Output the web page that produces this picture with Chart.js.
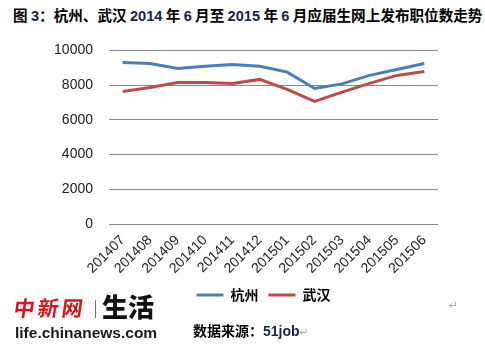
<!DOCTYPE html>
<html>
<head>
<meta charset="utf-8">
<script src="https://cdn.jsdelivr.net/npm/chart.js@4"></script>
<style>
  html, body { margin: 0; padding: 0; background: #fff; }
  #wrap { position: relative; width: 485px; height: 356px; overflow: hidden; background: #fff; }
  #title { position: absolute; left: 13px; top: 5px; font: bold 14.6px "Noto Sans CJK SC", sans-serif; color: #000; white-space: nowrap; line-height: 20px; }
  #title .n { color: #1a2350; font-family: "Liberation Sans", Arial, sans-serif; }
  #chartBox { position: absolute; left: 41px; top: 26px; width: 444px; height: 286px; }
  #logoRed { position: absolute; left: 14px; top: 294px; font: bold 21px "Noto Sans CJK SC", serif; color: #d9141c; letter-spacing: 3px; line-height: 26px; white-space: nowrap; transform: skewX(-8deg); }
  #logoSep { position: absolute; left: 95px; top: 300px; width: 1px; height: 18px; background: #777; }
  #logoLife { position: absolute; left: 102px; top: 291px; font: 900 26px "Noto Sans CJK SC", sans-serif; color: #111; line-height: 30px; white-space: nowrap; }
  #logoUrl { position: absolute; left: 15px; top: 324px; font: bold 15.5px "Liberation Sans", Arial, sans-serif; color: #1a1a1a; line-height: 18px; white-space: nowrap; }
  #source { position: absolute; left: 193px; top: 320px; font: bold 14px "Noto Sans CJK SC", sans-serif; color: #000; line-height: 20px; white-space: nowrap; }
  #source .n { color: #1a2350; font-family: "Liberation Sans", Arial, sans-serif; }
  .pm { color: #aaa; font-weight: normal; font-size: 11px; font-family: "DejaVu Sans", sans-serif; }
  #pm2 { position: absolute; left: 449px; top: 299px; }
</style>
</head>
<body>
<div id="wrap">
  <div id="title">图 <span class="n">3</span>：杭州、武汉 <span class="n">2014</span> 年 <span class="n">6</span> 月至 <span class="n">2015</span> 年 <span class="n">6</span> 月应届生网上发布职位数走势</div>
  <div id="chartBox"><canvas id="c"></canvas></div>
  <div id="logoRed">中新网</div>
  <div id="logoSep"></div>
  <div id="logoLife">生活</div>
  <div id="logoUrl">life.chinanews.com</div>
  <div id="source">数据来源：<span class="n">51job</span><span class="pm">↵</span></div>
  <div id="pm2" class="pm">↵</div>
</div>
<script>
const categories = ["201407","201408","201409","201410","201411","201412","201501","201502","201503","201504","201505","201506"];
const hangzhou = [9310, 9250, 8960, 9090, 9190, 9090, 8750, 7810, 8070, 8560, 8900, 9250];
const wuhan    = [7630, 7860, 8150, 8150, 8100, 8330, 7750, 7060, 7600, 8100, 8560, 8790];
const seriesNames = ["杭州", "武汉"];
const yTicks = [0, 2000, 4000, 6000, 8000, 10000];

const blue = "#4a7ebb";
const red = "#be4b48";

const legendShift = {
  id: "legendShift",
  afterLayout(chart) {
    const l = chart.legend;
    if (l) { l.left += 24; l.right += 24; }
  }
};

new Chart(document.getElementById("c"), {
  type: "line",
  data: {
    labels: categories,
    datasets: [
      { label: seriesNames[0], data: hangzhou, borderColor: blue, backgroundColor: blue, borderWidth: 3, pointRadius: 0, tension: 0, fill: false },
      { label: seriesNames[1], data: wuhan, borderColor: red, backgroundColor: red, borderWidth: 3, pointRadius: 0, tension: 0, fill: false }
    ]
  },
  plugins: [legendShift],
  options: {
    responsive: true,
    maintainAspectRatio: false,
    animation: false,
    layout: { padding: { top: 0, right: 47, left: 0, bottom: 0 } },
    plugins: {
      tooltip: { enabled: false },
      legend: {
        position: "bottom",
        labels: {
          boxWidth: 27,
          boxHeight: 3,
          padding: 10,
          color: "#000",
          font: { family: "Noto Sans CJK SC", size: 14, weight: "bold" },
          generateLabels(chart) {
            return chart.data.datasets.map((ds, i) => ({
              text: ds.label, fillStyle: ds.borderColor, strokeStyle: ds.borderColor,
              lineWidth: 0, hidden: false, datasetIndex: i, fontColor: "#000"
            }));
          }
        }
      }
    },
    scales: {
      x: {
        offset: true,
        grid: { display: false, drawTicks: false },
        border: { display: false },
        ticks: {
          maxRotation: 45, minRotation: 45, padding: 8, autoSkip: false,
          color: "#222", font: { family: "Liberation Sans", size: 14 }
        },
        afterFit(scale) { scale.height = 54; }
      },
      y: {
        min: 0, max: 10000,
        afterBuildTicks(scale) { scale.ticks = yTicks.map(v => ({ value: v })); },
        grid: { color: "#8c8c8c", lineWidth: 1, drawTicks: false },
        border: { display: false },
        ticks: {
          padding: 16, color: "#222", font: { family: "Liberation Sans", size: 14 },
          callback: (v) => String(v)
        },
        afterFit(scale) { scale.width = 68; }
      }
    }
  }
});
</script>
</body>
</html>
